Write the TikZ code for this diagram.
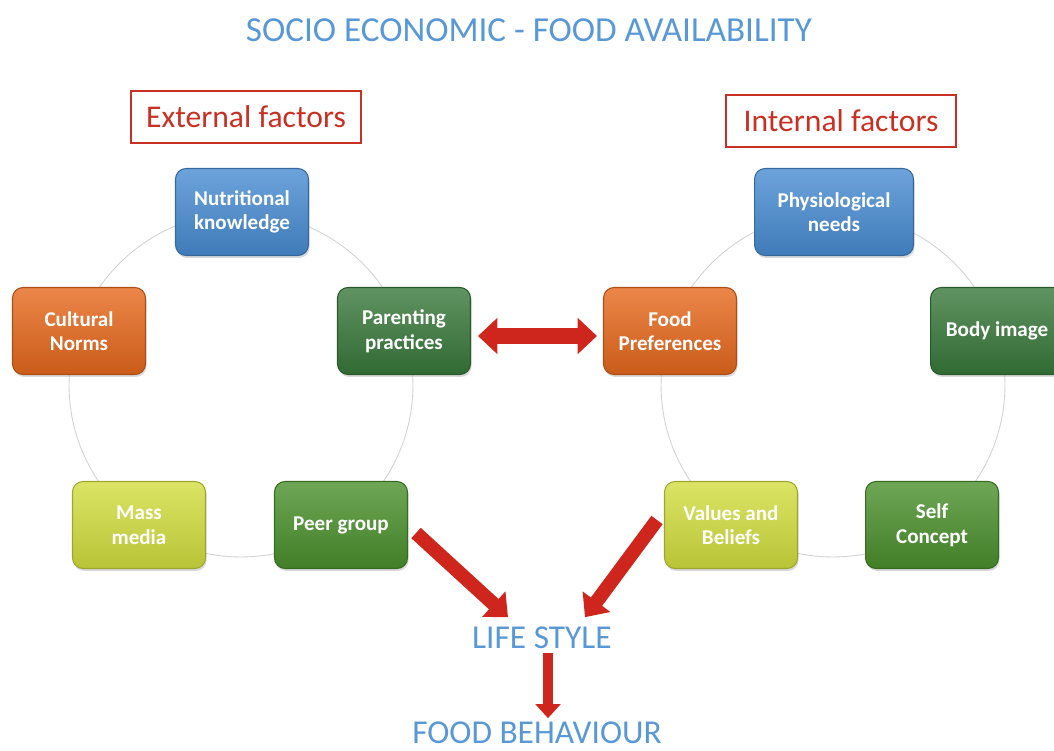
\documentclass[tikz,border=0pt]{standalone}
\usepackage{fontspec}
\setmainfont{Carlito}
\usetikzlibrary{arrows.meta,shadows}

\definecolor{titleblue}{RGB}{88,152,214}
\definecolor{factred}{RGB}{200,48,36}
\definecolor{arrowred}{RGB}{206,38,28}
\definecolor{boxblue}{RGB}{72,140,210}
\definecolor{boxorange}{RGB}{230,104,28}
\definecolor{boxdkgreen}{RGB}{56,120,58}
\definecolor{boxgreen}{RGB}{74,144,44}
\definecolor{boxyellow}{RGB}{210,222,62}

\tikzset{
  factor/.style={rounded corners=6pt, minimum width=2.66cm, minimum height=1.74cm,
    align=center, text=white, font=\bfseries\fontsize{12}{14}\selectfont,
    draw=#1!75!black, line width=0.6pt,
    top color=#1!80!white, bottom color=#1!88!black,
    drop shadow={opacity=0.3, shadow xshift=0.6pt, shadow yshift=-1.4pt}},
  header/.style={draw=factred, line width=1.5pt, text=factred,
    font=\fontsize{18}{20}\selectfont, minimum width=4.6cm, minimum height=1.04cm},
  banner/.style={text=titleblue, font=\fontsize{19}{22}\selectfont, inner sep=2pt},
  ring/.style={draw=gray!35, line width=0.5pt},
  bigarrow/.style={draw=arrowred, line width=8pt,
    -{Triangle[length=11pt,width=19pt]}},
  downarrow/.style={draw=arrowred, line width=6pt,
    -{Triangle[length=8pt,width=14pt]}},
  twoway/.style={draw=arrowred, line width=9.5pt,
    {Triangle[length=11pt,width=20pt]}-{Triangle[length=11pt,width=20pt]}}
}

\begin{document}
\begin{tikzpicture}[x=0.02cm, y=-0.02cm]
    \clip (0,0) rectangle (1054,750);

    % Title
    \node[text=titleblue, font=\fontsize{20}{22}\selectfont] (title) at (529,30)
        {SOCIO ECONOMIC - FOOD AVAILABILITY};

    % Headers
    \node[header] (ext) at (246,117) {External factors};
    \node[header] (int) at (841,121) {Internal factors};

    % Cycles behind the boxes
    \coordinate (extc) at (241,385);
    \coordinate (intc) at (833,385);
    \draw[ring] (extc) circle[radius=3.44cm];
    \draw[ring] (intc) circle[radius=3.44cm];

    % External factors
    \node[factor=boxblue] (nutri) at (242,212) {Nutritional\\knowledge};
    \node[factor=boxorange] (norms) at (79,331) {Cultural\\Norms};
    \node[factor=boxdkgreen] (parent) at (404,331) {Parenting\\practices};
    \node[factor=boxyellow] (media) at (139,525) {Mass\\media};
    \node[factor=boxgreen] (peer) at (341,525) {Peer group};

    % Internal factors
    \node[factor=boxblue, minimum width=3.18cm] (physio) at (834,212) {Physiological\\needs};
    \node[factor=boxorange] (pref) at (670,331) {Food\\Preferences};
    \node[factor=boxdkgreen] (body) at (997,331) {Body image};
    \node[factor=boxyellow] (values) at (731,525) {Values and\\Beliefs};
    \node[factor=boxgreen] (self) at (932,525) {Self\\Concept};

    % Outcomes
    \node[banner] (life) at (542,638) {LIFE STYLE};
    \node[banner] (food) at (537,733) {FOOD BEHAVIOUR};

    % Arrows
    \draw[twoway] ([shift={(7,5)}]parent.east) -- ([shift={(-6,5)}]pref.west);
    \draw[bigarrow] ([shift={(8,8)}]peer.east) -- ([shift={(-34,-6)}]life.north);
    \draw[bigarrow] ([shift={(-7,-5)}]values.west) -- ([shift={(43,-6)}]life.north);
    \draw[downarrow] ([xshift=0.12cm]life.south) -- ([xshift=0.12cm]life.south |- food.north);
\end{tikzpicture}
\end{document}
